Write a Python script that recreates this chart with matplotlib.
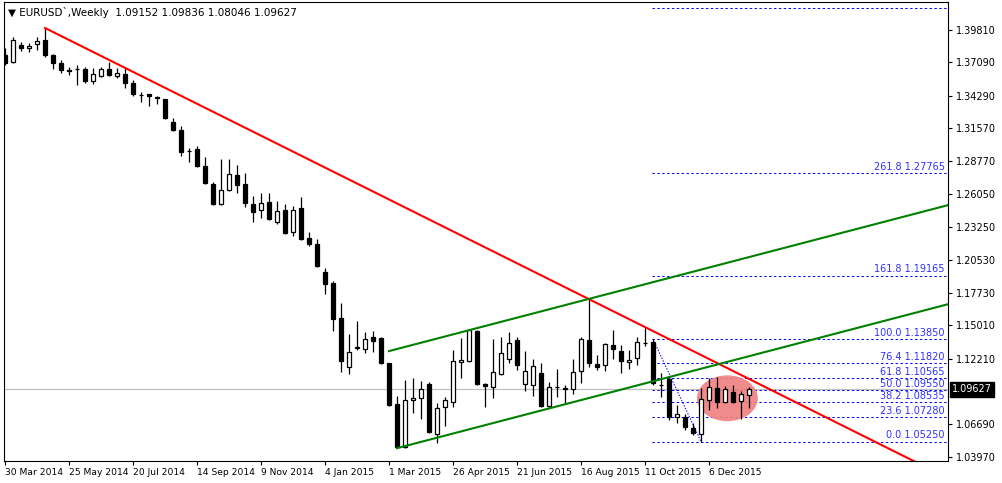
import numpy as np
import matplotlib
matplotlib.use("Agg")
import matplotlib.pyplot as plt
from matplotlib.patches import Ellipse

# weekly EURUSD candles (open, high, low, close)
opens = [1.3771, 1.3712, 1.3855, 1.3830, 1.3863, 1.3897, 1.3771, 1.3704, 1.3645, 1.3653,
         1.3653, 1.3552, 1.3595, 1.3653, 1.3595, 1.3611, 1.3536, 1.3435, 1.3443, 1.3418,
         1.3401, 1.3208, 1.3141, 1.2965, 1.2981, 1.2839, 1.2687, 1.2519, 1.2637, 1.2763,
         1.2687, 1.2519, 1.2469, 1.2536, 1.2368, 1.2469, 1.2284, 1.2486, 1.2233, 1.2183,
         1.1948, 1.1856, 1.1562, 1.1150, 1.1315, 1.1301, 1.1402, 1.1394, 1.1184, 1.0839,
         1.0478, 1.0873, 1.0890, 1.1007, 1.0587, 1.0814, 1.0856, 1.1192, 1.1201, 1.1453,
         1.1007, 1.0982, 1.1091, 1.1217, 1.1377, 1.1007, 1.0999, 1.1100, 1.0822, 1.0980,
         1.0974, 1.0965, 1.1117, 1.1377, 1.1175, 1.1167, 1.1335, 1.1285, 1.1192, 1.1226,
         1.1350, 1.1360, 1.0999, 1.1049, 1.0730, 1.0730, 1.0638, 1.0587, 1.0873, 1.0974,
         1.0856, 1.0940, 1.0864, 1.09152]
highs = [1.3830, 1.3922, 1.3880, 1.3872, 1.3922, 1.3998, 1.3779, 1.3729, 1.3670, 1.3687,
         1.3670, 1.3662, 1.3670, 1.3712, 1.3662, 1.3670, 1.3561, 1.3460, 1.3445, 1.3427,
         1.3405, 1.3242, 1.3175, 1.2990, 1.3007, 1.2914, 1.2704, 1.2897, 1.2897, 1.2847,
         1.2780, 1.2587, 1.2612, 1.2612, 1.2545, 1.2519, 1.2502, 1.2578, 1.2284, 1.2225,
         1.1982, 1.1873, 1.1688, 1.1427, 1.1537, 1.1444, 1.1453, 1.1402, 1.1184, 1.0907,
         1.1041, 1.1058, 1.1032, 1.1024, 1.0848, 1.0898, 1.1293, 1.1394, 1.1469, 1.1460,
         1.1015, 1.1385, 1.1402, 1.1444, 1.1402, 1.1285, 1.1217, 1.1184, 1.1024, 1.1133,
         1.0999, 1.1217, 1.1402, 1.1721, 1.1251, 1.1352, 1.1461, 1.1335, 1.1293, 1.1402,
         1.1486, 1.1385, 1.1100, 1.1066, 1.0831, 1.0755, 1.0680, 1.0974, 1.1058, 1.1066,
         1.0990, 1.0999, 1.0949, 1.09836]
lows = [1.3687, 1.3705, 1.3805, 1.3796, 1.3813, 1.3754, 1.3653, 1.3620, 1.3603, 1.3519,
        1.3536, 1.3527, 1.3586, 1.3595, 1.3578, 1.3494, 1.3427, 1.3376, 1.3343, 1.3359,
        1.3233, 1.3133, 1.2923, 1.2872, 1.2830, 1.2687, 1.2511, 1.2511, 1.2630, 1.2612,
        1.2494, 1.2368, 1.2402, 1.2385, 1.2351, 1.2267, 1.2250, 1.2217, 1.2166, 1.1990,
        1.1763, 1.1453, 1.1108, 1.1091, 1.1293, 1.1268, 1.1276, 1.1175, 1.0822, 1.0470,
        1.0470, 1.0764, 1.0713, 1.0596, 1.0512, 1.0654, 1.0814, 1.1058, 1.1196, 1.0999,
        1.0814, 1.0890, 1.1083, 1.1184, 1.1125, 1.0949, 1.0907, 1.0815, 1.0814, 1.0898,
        1.0848, 1.0924, 1.1016, 1.1150, 1.1125, 1.1117, 1.1217, 1.1100, 1.1133, 1.1167,
        1.1327, 1.0999, 1.0898, 1.0705, 1.0680, 1.0621, 1.0579, 1.0525, 1.0789, 1.0806,
        1.0848, 1.0848, 1.0713, 1.08046]
closes = [1.3704, 1.3897, 1.3830, 1.3847, 1.3889, 1.3771, 1.3704, 1.3645, 1.3636, 1.3650,
          1.3552, 1.3611, 1.3653, 1.3603, 1.3620, 1.3536, 1.3443, 1.3432, 1.3427, 1.3410,
          1.3242, 1.3141, 1.2956, 1.2962, 1.2839, 1.2696, 1.2519, 1.2637, 1.2771, 1.2679,
          1.2528, 1.2452, 1.2528, 1.2394, 1.2461, 1.2276, 1.2469, 1.2225, 1.2183, 1.1998,
          1.1847, 1.1553, 1.1201, 1.1276, 1.1320, 1.1385, 1.1369, 1.1184, 1.0831, 1.0478,
          1.0873, 1.0890, 1.0966, 1.0604, 1.0806, 1.0873, 1.1201, 1.1209, 1.1461, 1.1007,
          1.0990, 1.1108, 1.1268, 1.1352, 1.1167, 1.1117, 1.1158, 1.0822, 1.0982, 1.0984,
          1.0965, 1.1108, 1.1385, 1.1184, 1.1150, 1.1343, 1.1301, 1.1201, 1.1209, 1.1360,
          1.1352, 1.1016, 1.1002, 1.0730, 1.0755, 1.0646, 1.0596, 1.0881, 1.0982, 1.0856,
          1.0965, 1.0856, 1.0923, 1.09627]

date_labels = ["30 Mar 2014", "25 May 2014", "20 Jul 2014", "14 Sep 2014", "9 Nov 2014",
               "4 Jan 2015", "1 Mar 2015", "26 Apr 2015", "21 Jun 2015", "16 Aug 2015",
               "11 Oct 2015", "6 Dec 2015"]
price_ticks = [1.39810, 1.37090, 1.34290, 1.31570, 1.28770, 1.26050, 1.23250, 1.20530,
               1.17730, 1.15010, 1.12210, 1.06690, 1.03970]

# trend lines: (index, price) anchors
red_line = [(5, 1.3998), (73, 1.1721)]
green_upper = [(48, 1.1285), (117.9, 1.2511)]
green_lower = [(49, 1.0470), (117.9, 1.1679)]

fib_start = 81
fib_levels = [0.0, 23.6, 38.2, 50.0, 61.8, 76.4, 100.0, 161.8, 261.8, 423.6]
fib_prices = [1.05250, 1.07280, 1.08535, 1.09550, 1.10565, 1.11820, 1.13850, 1.19165, 1.27765, 1.41685]
fib_diag = [(81, 1.1385), (87, 1.0525)]

last_price = 1.09627

fig = plt.figure(figsize=(10.02, 4.83), dpi=100)
ax = fig.add_axes([4/1002, 22/483, 944/1002, 459/483])
ax.set_xlim(-0.125, 117.875)
ax.set_ylim(1.03622, 1.42161)

x = np.arange(len(opens))
o = np.array(opens); c = np.array(closes)
ax.vlines(x, lows, highs, color="black", lw=0.9, zorder=3)
up = c >= o
bottoms = np.minimum(o, c)
heights = np.maximum(np.abs(c - o), 0.00005)
ax.bar(x[up], heights[up], bottom=bottoms[up], width=0.6, facecolor="white",
       edgecolor="black", lw=0.9, zorder=4)
ax.bar(x[~up], heights[~up], bottom=bottoms[~up], width=0.6, facecolor="black",
       edgecolor="black", lw=0.9, zorder=4)

# current price line
ax.axhline(last_price, color="#c0c0c0", lw=0.9, zorder=1)

# fibonacci
for lev, p in zip(fib_levels, fib_prices):
    ax.plot([fib_start - 0.1, 117.875], [p, p], color="#0000ff", lw=0.7,
            ls=(0, (2.5, 2.5)), zorder=2)
    if lev < 400:
        ax.text(117.5, p + 0.0012, f"{lev:.1f} {p:.5f}", color="#3030ff",
                fontsize=7, ha="right", va="bottom", zorder=5)
ax.plot([q[0] for q in fib_diag], [q[1] for q in fib_diag], color="#0000ff", lw=0.7,
        ls=(0, (1.5, 1.5)), zorder=2)

def extend(pts, x0, x1):
    (a, pa), (b, pb) = pts
    k = (pb - pa) / (b - a)
    return [x0, x1], [pa + k * (x0 - a), pa + k * (x1 - a)]

xs, ys = extend(red_line, 5, 118)
ax.plot(xs, ys, color="#ff0000", lw=1.5, zorder=6)
xs, ys = extend(green_upper, 48, 118)
ax.plot(xs, ys, color="#008000", lw=1.5, zorder=6)
xs, ys = extend(green_lower, 49, 118)
ax.plot(xs, ys, color="#008000", lw=1.5, zorder=6)

ax.add_patch(Ellipse((90.3, 1.0889), 7.6, 0.0385, facecolor="#f08080",
                     edgecolor="none", alpha=0.9, zorder=2))

ax.set_xticks([8 * i for i in range(len(date_labels))])
ax.set_xticklabels(date_labels, fontsize=6.6, ha="left")
ax.tick_params(axis="x", length=3, pad=2, direction="out")
ax.yaxis.tick_right()
ax.set_yticks(price_ticks)
ax.set_yticklabels([f"{p:.5f}" for p in price_ticks], fontsize=7)
ax.tick_params(axis="y", length=3, pad=3)
for s in ax.spines.values():
    s.set_color("black"); s.set_linewidth(0.8)

ax.text(117.875 + 0.5, last_price, f"{last_price:.5f}", fontsize=7, color="white",
        ha="left", va="center", bbox=dict(boxstyle="square,pad=0.25", fc="black", ec="black"),
        clip_on=False, zorder=10)

fig.text(8/1002, 1 - 12/483, "\u25bc EURUSD`,Weekly  1.09152 1.09836 1.08046 1.09627",
         fontsize=7.5, va="center", ha="left")

fig.savefig("out.png", dpi=100, facecolor="white")
